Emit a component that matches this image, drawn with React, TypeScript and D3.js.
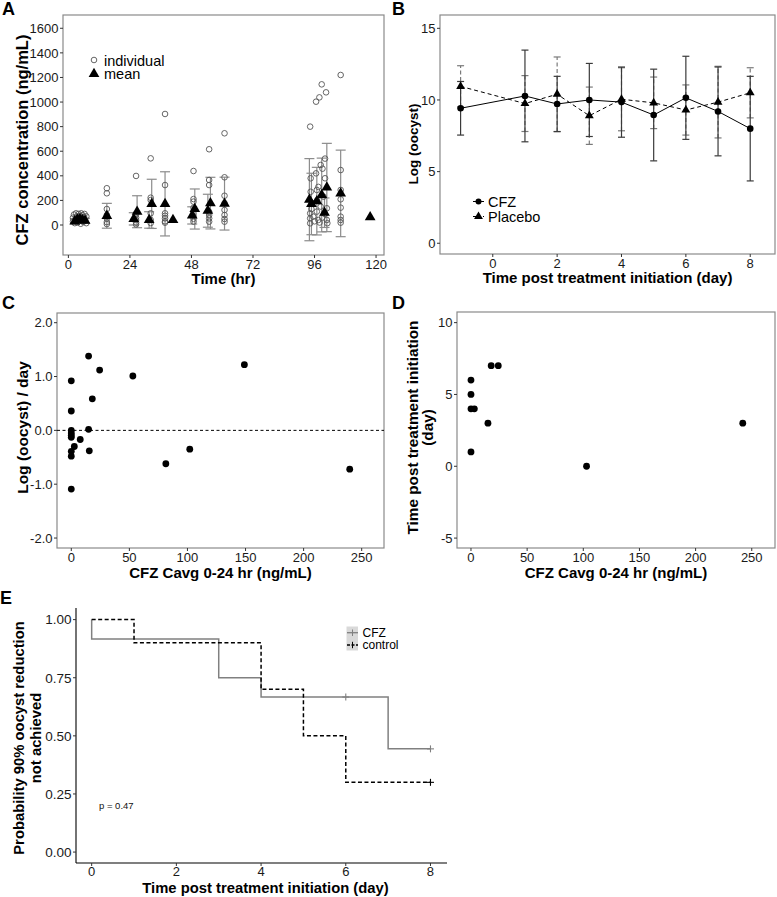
import React from 'react';
import * as d3 from 'd3';

const FONT = '"Liberation Sans", Arial, Helvetica, sans-serif';

// ---------- Panel A data ----------
const aTicksX = [0, 24, 48, 72, 96, 120];
const aTicksY = [0, 200, 400, 600, 800, 1000, 1200, 1400, 1600];
const indivTime = [
  1.8, 1.8, 2.2, 2.5, 2.8, 3.0, 3.2, 3.5, 3.8, 4.0, 4.2, 4.5, 4.8, 5.0, 5.2, 5.5, 5.8, 6.0, 6.3, 6.6, 7.0, 7.0,
  15, 15, 15, 15, 15, 15, 15,
  26.4, 26.4, 26.4, 26.4, 26.4, 26.4,
  32.1, 32.1, 32.1, 32.1, 32.1, 32.1,
  37.7, 37.7, 37.7, 37.7, 37.7, 37.7, 37.7,
  48.8, 48.8, 48.8, 48.8, 48.8, 48.8, 48.8, 48.8,
  54.9, 54.9, 54.9, 54.9, 54.9, 54.9, 54.9,
  60.9, 60.9, 60.9, 60.9, 60.9, 60.9, 60.9, 60.9,
  94.3, 96.6, 97.9, 98.8, 100.5,
  94.5, 96.6, 98.4, 99.1, 100.1, 96.9, 100.1, 94.5,
  94.3, 94.3, 94.3, 95.5, 96.9, 97.5, 98.4, 99.0, 100.8, 100.8, 95.0, 97.0, 99.5, 96.0, 98.0, 100.0, 101.0, 94.8, 97.5,
  106.2, 106.2, 106.2, 106.2, 106.2, 106.2, 106.2, 106.2,
];
const indivConc = [
  30, 60, 85, 15, 45, 95, 70, 20, 55, 90, 35, 75, 10, 95, 50, 80, 25, 65, 90, 40, 15, 70,
  299, 258, 130, 81, 54, 24, 8,
  399, 90, 60, 40, 20, 5,
  542, 222, 203, 95, 41, 16,
  903, 325, 95, 75, 54, 30, 19,
  439, 211, 190, 140, 95, 73, 50, 27,
  616, 366, 325, 108, 81, 54, 27,
  746, 388, 238, 177, 122, 81, 49, 27,
  800, 1003, 1038, 1144, 1079,
  380, 420, 488, 458, 540, 285, 380, 270,
  95, 54, 14, 68, 109, 41, 150, 60, 136, 41, 180, 200, 230, 30, 20, 90, 15, 130, 310,
  1220, 447, 285, 209, 141, 68, 41, 19,
];
const meanTime = [2.5, 3.5, 4.5, 5.5, 6.5, 15, 25.5, 26.8, 31.5, 32.5, 37.7, 40.8, 48.3, 49.3, 54.4, 55.4, 60.9, 94.0, 94.8, 96.9, 98.8, 99.9, 100.8, 106.2, 117.7];
const meanConc = [30, 45, 50, 40, 35, 75, 50, 108, 41, 172, 172, 41, 78, 130, 116, 178, 174, 206, 171, 194, 244, 100, 305, 257, 63];
const meanSD = [20, 25, 30, 25, 20, 101, 50, 130, 67, 200, 261, 0, 70, 163, 134, 210, 215, 334, 250, 275, 300, 120, 359, 352, 0];

// ---------- Panel B data ----------
const bTicksX = [0, 2, 4, 6, 8];
const bTicksY = [0, 5, 10, 15];
const bDays = [-1, 1, 2, 3, 4, 5, 6, 7, 8];
const cfzMean = [9.42, 10.28, 9.72, 10.0, 9.85, 8.95, 10.15, 9.2, 8.0];
const cfzSD = [1.87, 3.2, 1.93, 2.55, 2.45, 3.2, 2.9, 3.1, 3.65];
const placeboMean = [10.95, 9.75, 10.4, 8.9, 10.05, 9.8, 9.3, 9.85, 10.5];
const placeboSD = [1.44, 1.95, 2.6, 2.0, 2.2, 1.8, 1.75, 2.5, 1.75];

// ---------- Panel C data ----------
const cTicksX = [0, 50, 100, 150, 200, 250];
const cTicksY = [-2, -1, 0, 1, 2];
const cAvg = [0, 14.9, 24.4, 53.0, 149, 18.1, 0, 0, 0, 0, 0, 14.9, 7.7, 2.6, 0, 0, 15.5, 0, 81.4, 102, 239.7];
const cRate = [0.92, 1.38, 1.12, 1.01, 1.22, 0.585, 0.36, 0.0, -0.05, -0.09, -0.13, 0.02, -0.17, -0.3, -0.39, -0.48, -0.38, -1.09, -0.62, -0.35, -0.72];

// ---------- Panel D data ----------
const dTicksX = [0, 50, 100, 150, 200, 250];
const dTicksY = [-5, 0, 5, 10];
const dAvg = [0, 0, 0, 3, 0, 18, 24.3, 15.1, 102.9, 242];
const dTime = [6, 5, 4, 4, 1, 7, 7, 3, 0, 3];

// ---------- Panel E data ----------
const eTicksX = [0, 2, 4, 6, 8];
const eTicksY = [0, 0.25, 0.5, 0.75, 1.0];
const cfzKmTime = [0, 0, 3, 4, 7, 8];
const cfzKmSurv = [1, 0.917, 0.75, 0.667, 0.444, 0.444];
const cfzCensorTime = [6, 8];
const cfzCensorSurv = [0.667, 0.444];
const ctlKmTime = [0, 1, 4, 5, 6, 8];
const ctlKmSurv = [1, 0.9, 0.7, 0.5, 0.3, 0.3];
const ctlCensorTime = [8];
const ctlCensorSurv = [0.3];

const TICK_COL = '#333';
const LABEL_COL = '#1a1a1a';
const FRAME_COL = '#8a8a8a';

type Lin = d3.ScaleLinear<number, number>;

function YAxis({ y, ticks, x0, fmt, fs = 13 }: { y: Lin; ticks: number[]; x0: number; fmt: (v: number) => string; fs?: number }) {
  return (
    <g>
      {ticks.map((t) => (
        <g key={t}>
          <line x1={x0 - 3} x2={x0} y1={y(t)} y2={y(t)} stroke={TICK_COL} strokeWidth={1} />
          <text x={x0 - 4.5} y={y(t)} dy="0.36em" textAnchor="end" fontSize={fs} fill={LABEL_COL}>
            {fmt(t)}
          </text>
        </g>
      ))}
    </g>
  );
}

function XAxis({ x, ticks, y0, fmt, off = 13.8 }: { x: Lin; ticks: number[]; y0: number; fmt: (v: number) => string; off?: number }) {
  return (
    <g>
      {ticks.map((t) => (
        <g key={t}>
          <line x1={x(t)} x2={x(t)} y1={y0} y2={y0 + 3} stroke={TICK_COL} strokeWidth={1} />
          <text x={x(t)} y={y0 + off} textAnchor="middle" fontSize={13} fill={LABEL_COL}>
            {fmt(t)}
          </text>
        </g>
      ))}
    </g>
  );
}

const tri = d3.symbol().type(d3.symbolTriangle).size(50)() as string;
const triSmall = d3.symbol().type(d3.symbolTriangle).size(34)() as string;

export default function App() {
  const A = { l: 63, r: 384, t: 15, b: 255 };
  const xA = d3.scaleLinear().domain([-2.1, 123.1]).range([A.l, A.r]);
  const yA = d3.scaleLinear().domain([-244, 1708]).range([A.b, A.t]);

  const B = { l: 440, r: 775, t: 15, b: 254 };
  const xB = d3.scaleLinear().domain([-1.64, 8.77]).range([B.l, B.r]);
  const yB = d3.scaleLinear().domain([-0.75, 15.93]).range([B.b, B.t]);
  const cfzPath = d3.line<number>().x((_, i) => xB(bDays[i])).y((v) => yB(v))(cfzMean) as string;
  const plcPath = d3.line<number>().x((_, i) => xB(bDays[i])).y((v) => yB(v))(placeboMean) as string;

  const C = { l: 57, r: 384, t: 313, b: 548 };
  const xC = d3.scaleLinear().domain([-12.3, 269.2]).range([C.l, C.r]);
  const yC = d3.scaleLinear().domain([-2.185, 2.18]).range([C.b, C.t]);

  const D = { l: 457, r: 775, t: 312, b: 548 };
  const xD = d3.scaleLinear().domain([-12.45, 270.7]).range([D.l, D.r]);
  const yD = d3.scaleLinear().domain([-5.69, 10.74]).range([D.b, D.t]);

  const E = { l: 76, r: 447, t: 608, b: 863 };
  const xE = d3.scaleLinear().domain([-0.37, 8.39]).range([E.l, E.r]);
  const yE = d3.scaleLinear().domain([-0.047, 1.05]).range([E.b, E.t]);
  const stepLine = (ts: number[], ss: number[]) =>
    d3.line<number>().curve(d3.curveStepAfter).x((_, i) => xE(ts[i])).y((s) => yE(s))(ss) as string;

  const fmtInt = (v: number) => String(v);
  const fmt1 = (v: number) => v.toFixed(1);
  const fmt2 = (v: number) => v.toFixed(2);

  const plus = (cx: number, cy: number, col: string, k: string) => (
    <g key={k} stroke={col} strokeWidth={1.1}>
      <line x1={cx - 3.5} x2={cx + 3.5} y1={cy} y2={cy} />
      <line x1={cx} x2={cx} y1={cy - 3.5} y2={cy + 3.5} />
    </g>
  );

  return (
    <svg
      width={777}
      height={897}
      style={{ position: 'absolute', left: 0, top: 0, background: '#fff' }}
      fontFamily={FONT}
    >
      <rect x={0} y={0} width={777} height={897} fill="#fff" />

      {/* ================= Panel A ================= */}
      <text x={2} y={15} fontSize={18} fontWeight="bold">A</text>
      <rect x={A.l} y={A.t} width={A.r - A.l} height={A.b - A.t} fill="none" stroke={FRAME_COL} strokeWidth={1.2} />
      <YAxis y={yA} ticks={aTicksY} x0={A.l} fmt={fmtInt} />
      <XAxis x={xA} ticks={aTicksX} y0={A.b} fmt={fmtInt} />
      <g stroke="#8c8c8c" strokeWidth={1.2}>
        {meanTime.map((t, i) =>
          meanSD[i] > 0 ? (
            <g key={i}>
              <line x1={xA(t)} x2={xA(t)} y1={yA(meanConc[i] - meanSD[i])} y2={yA(meanConc[i] + meanSD[i])} />
              <line x1={xA(t) - 5} x2={xA(t) + 5} y1={yA(meanConc[i] - meanSD[i])} y2={yA(meanConc[i] - meanSD[i])} />
              <line x1={xA(t) - 5} x2={xA(t) + 5} y1={yA(meanConc[i] + meanSD[i])} y2={yA(meanConc[i] + meanSD[i])} />
            </g>
          ) : null
        )}
      </g>
      <g fill="none" stroke="#555" strokeWidth={0.9}>
        {indivTime.map((t, i) => (
          <circle key={i} cx={xA(t)} cy={yA(indivConc[i])} r={2.8} />
        ))}
      </g>
      <g fill="#000">
        {meanTime.map((t, i) => (
          <path key={i} d={tri} transform={`translate(${xA(t)},${yA(meanConc[i])})`} />
        ))}
      </g>
      <circle cx={94} cy={60} r={2.8} fill="none" stroke="#555" strokeWidth={0.9} />
      <text x={104} y={65.5} fontSize={14.5}>individual</text>
      <path d={tri} transform="translate(94,74)" fill="#000" />
      <text x={104} y={79} fontSize={14.5}>mean</text>
      <text x={(A.l + A.r) / 2} y={283.5} textAnchor="middle" fontSize={15} fontWeight="bold">Time (hr)</text>
      <text transform={`translate(27.5,140) rotate(-90)`} textAnchor="middle" fontSize={16.5} fontWeight="bold">
        CFZ concentration (ng/mL)
      </text>

      {/* ================= Panel B ================= */}
      <text x={392} y={15} fontSize={18} fontWeight="bold">B</text>
      <rect x={B.l} y={B.t} width={B.r - B.l} height={B.b - B.t} fill="none" stroke={FRAME_COL} strokeWidth={1.2} />
      <YAxis y={yB} ticks={bTicksY} x0={B.l} fmt={fmtInt} />
      <XAxis x={xB} ticks={bTicksX} y0={B.b} fmt={fmtInt} />
      <g stroke="#7a7a7a" strokeWidth={1.2}>
        {bDays.map((d, i) => (
          <g key={i}>
            <line x1={xB(d)} x2={xB(d)} y1={yB(placeboMean[i] - placeboSD[i])} y2={yB(placeboMean[i] + placeboSD[i])} strokeDasharray="4,2.5" />
            <line x1={xB(d) - 3.5} x2={xB(d) + 3.5} y1={yB(placeboMean[i] - placeboSD[i])} y2={yB(placeboMean[i] - placeboSD[i])} />
            <line x1={xB(d) - 3.5} x2={xB(d) + 3.5} y1={yB(placeboMean[i] + placeboSD[i])} y2={yB(placeboMean[i] + placeboSD[i])} />
          </g>
        ))}
      </g>
      <g stroke="#3a3a3a" strokeWidth={1.2}>
        {bDays.map((d, i) => (
          <g key={i}>
            <line x1={xB(d)} x2={xB(d)} y1={yB(cfzMean[i] - cfzSD[i])} y2={yB(cfzMean[i] + cfzSD[i])} />
            <line x1={xB(d) - 3.5} x2={xB(d) + 3.5} y1={yB(cfzMean[i] - cfzSD[i])} y2={yB(cfzMean[i] - cfzSD[i])} />
            <line x1={xB(d) - 3.5} x2={xB(d) + 3.5} y1={yB(cfzMean[i] + cfzSD[i])} y2={yB(cfzMean[i] + cfzSD[i])} />
          </g>
        ))}
      </g>
      <path d={cfzPath} fill="none" stroke="#000" strokeWidth={1} />
      <path d={plcPath} fill="none" stroke="#000" strokeWidth={1} strokeDasharray="4,3" />
      {bDays.map((d, i) => (
        <circle key={'c' + i} cx={xB(d)} cy={yB(cfzMean[i])} r={3.3} fill="#000" />
      ))}
      {bDays.map((d, i) => (
        <path key={'p' + i} d={triSmall} transform={`translate(${xB(d)},${yB(placeboMean[i])})`} fill="#000" />
      ))}
      <line x1={473} x2={484} y1={201.5} y2={201.5} stroke="#000" strokeWidth={1} />
      <circle cx={478.5} cy={201.5} r={3} fill="#000" />
      <text x={488} y={206.5} fontSize={14.5}>CFZ</text>
      <line x1={473} x2={484} y1={216.5} y2={216.5} stroke="#000" strokeWidth={1} strokeDasharray="3,2" />
      <path d={triSmall} transform="translate(478.5,216.5)" fill="#000" />
      <text x={488} y={221.5} fontSize={14.5}>Placebo</text>
      <text x={(B.l + B.r) / 2} y={283} textAnchor="middle" fontSize={15} fontWeight="bold">
        Time post treatment initiation (day)
      </text>
      <text transform={`translate(418,144) rotate(-90)`} textAnchor="middle" fontSize={13.5} fontWeight="bold">
        Log (oocyst)
      </text>

      {/* ================= Panel C ================= */}
      <text x={2} y={309} fontSize={18} fontWeight="bold">C</text>
      <rect x={C.l} y={C.t} width={C.r - C.l} height={C.b - C.t} fill="none" stroke={FRAME_COL} strokeWidth={1.2} />
      <YAxis y={yC} ticks={cTicksY} x0={C.l} fmt={fmt1} />
      <XAxis x={xC} ticks={cTicksX} y0={C.b} fmt={fmtInt} />
      <line x1={C.l} x2={C.r} y1={yC(0)} y2={yC(0)} stroke="#000" strokeWidth={1} strokeDasharray="3,2.5" />
      {cAvg.map((v, i) => (
        <circle key={i} cx={xC(v)} cy={yC(cRate[i])} r={3.4} fill="#000" />
      ))}
      <text x={(C.l + C.r) / 2} y={578} textAnchor="middle" fontSize={15} fontWeight="bold">
        CFZ Cavg 0-24 hr (ng/mL)
      </text>
      <text transform={`translate(27.5,427.5) rotate(-90)`} textAnchor="middle" fontSize={15.5} fontWeight="bold">
        Log (oocyst) / day
      </text>

      {/* ================= Panel D ================= */}
      <text x={392} y={309} fontSize={18} fontWeight="bold">D</text>
      <rect x={D.l} y={D.t} width={D.r - D.l} height={D.b - D.t} fill="none" stroke={FRAME_COL} strokeWidth={1.2} />
      <YAxis y={yD} ticks={dTicksY} x0={D.l} fmt={fmtInt} />
      <XAxis x={xD} ticks={dTicksX} y0={D.b} fmt={fmtInt} />
      {dAvg.map((v, i) => (
        <circle key={i} cx={xD(v)} cy={yD(dTime[i])} r={3.4} fill="#000" />
      ))}
      <text x={(D.l + D.r) / 2} y={578} textAnchor="middle" fontSize={15} fontWeight="bold">
        CFZ Cavg 0-24 hr (ng/mL)
      </text>
      <text transform={`translate(418,427.5) rotate(-90)`} textAnchor="middle" fontSize={15.3} fontWeight="bold">
        Time post treatment initiation
      </text>
      <text transform={`translate(433,427.5) rotate(-90)`} textAnchor="middle" fontSize={15.3} fontWeight="bold">
        (day)
      </text>

      {/* ================= Panel E ================= */}
      <text x={0} y={604} fontSize={18} fontWeight="bold">E</text>
      <line x1={E.l} x2={E.l} y1={E.t} y2={E.b} stroke="#000" strokeWidth={1.1} />
      <line x1={E.l} x2={E.r} y1={E.b} y2={E.b} stroke="#000" strokeWidth={1.1} />
      <YAxis y={yE} ticks={eTicksY} x0={E.l} fmt={fmt2} fs={13.5} />
      <XAxis x={xE} ticks={eTicksX} y0={E.b} fmt={fmtInt} off={13} />
      <path d={stepLine(cfzKmTime, cfzKmSurv)} fill="none" stroke="#808080" strokeWidth={1.5} />
      <path d={stepLine(ctlKmTime, ctlKmSurv)} fill="none" stroke="#000" strokeWidth={1.5} strokeDasharray="4,2.5" />
      {cfzCensorTime.map((t, i) => plus(xE(t), yE(cfzCensorSurv[i]), '#808080', 'cc' + i))}
      {ctlCensorTime.map((t, i) => plus(xE(t), yE(ctlCensorSurv[i]), '#000', 'kc' + i))}
      <text x={99} y={809} fontSize={9.5} fill="#111">p = 0.47</text>
      <rect x={346.5} y={626.5} width={11.5} height={24} fill="#d9d9d9" />
      <line x1={347} x2={358} y1={632.7} y2={632.7} stroke="#808080" strokeWidth={1.3} />
      <line x1={352.5} x2={352.5} y1={629.5} y2={636} stroke="#808080" strokeWidth={1} />
      <line x1={347} x2={358} y1={645} y2={645} stroke="#000" strokeWidth={1.3} strokeDasharray="3,1.5" />
      <line x1={352.5} x2={352.5} y1={641.8} y2={648.2} stroke="#000" strokeWidth={1} />
      <text x={362.5} y={637} fontSize={12}>CFZ</text>
      <text x={362.5} y={649.3} fontSize={12}>control</text>
      <text x={(E.l + E.r) / 2 + 4} y={892.5} textAnchor="middle" fontSize={14.8} fontWeight="bold">
        Time post treatment initiation (day)
      </text>
      <text transform={`translate(24,738) rotate(-90)`} textAnchor="middle" fontSize={14.8} fontWeight="bold">
        Probability 90% oocyst reduction
      </text>
      <text transform={`translate(41,738) rotate(-90)`} textAnchor="middle" fontSize={14.8} fontWeight="bold">
        not achieved
      </text>
    </svg>
  );
}
